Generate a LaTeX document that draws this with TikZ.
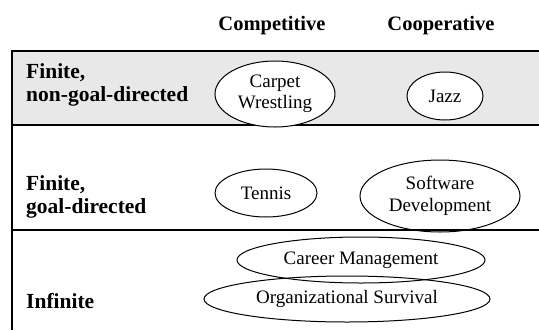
\documentclass[tikz,border=0pt]{standalone}
\usepackage{fontspec}
\setmainfont{Liberation Serif}
\usetikzlibrary{shapes.geometric}
\definecolor{bandgray}{HTML}{E8E8E8}
\begin{document}
\begin{tikzpicture}[x=1pt,y=-1pt,
  hdr/.style={font=\fontsize{20.5}{24}\selectfont\bfseries, anchor=base, inner sep=0},
  rowlbl/.style={font=\fontsize{21.5}{23}\selectfont\bfseries, anchor=base west, align=left, inner sep=0},
  game/.style={ellipse, draw, line width=1pt, inner sep=0, align=center,
    font=\fontsize{19}{21.5}\selectfont}]
\useasboundingbox (0,0) rectangle (539,330);
\fill[bandgray] (12,51) rectangle (539,125);
\coordinate (tl) at (12,51);
\coordinate (tr) at (539,51);
\coordinate (al) at (12,125);
\coordinate (ar) at (539,125);
\coordinate (bl) at (12,230);
\coordinate (br) at (539,230);
\coordinate (bot) at (12,330);
\draw[line width=1.2pt] (tr) -- (tl) -- (bot);
\draw[line width=1.2pt] (al) -- (ar);
\draw[line width=1.2pt] (bl) -- (br);
\node[hdr] (comp) at (272,30) {Competitive};
\node[hdr] (coop) at (441,30) {Cooperative};
\node[rowlbl] (r1a) at (26,78) {Finite,};
\node[rowlbl] (r1b) at (26,101) {non-goal-directed};
\node[rowlbl] (r2a) at (26,190) {Finite,};
\node[rowlbl] (r2b) at (26,213) {goal-directed};
\node[rowlbl] (r3) at (26,308) {Infinite};
\node[game, fill=white, minimum width=120pt, minimum height=66pt] (carpet) at (275,94) {Carpet\\Wrestling};
\node[game, fill=white, minimum width=76pt, minimum height=48pt] (jazz) at (445,96) {Jazz};
\node[game, minimum width=102pt, minimum height=48pt] (tennis) at (266,193) {Tennis};
\node[game, minimum width=160pt, minimum height=72pt] (soft) at (440,196) {Software\\Development};
\node[game, minimum width=248pt, minimum height=46pt] (career) at (361,260) {Career Management};
\node[game, minimum width=286pt, minimum height=46pt] (org) at (347,299) {Organizational Survival};
\end{tikzpicture}
\end{document}
